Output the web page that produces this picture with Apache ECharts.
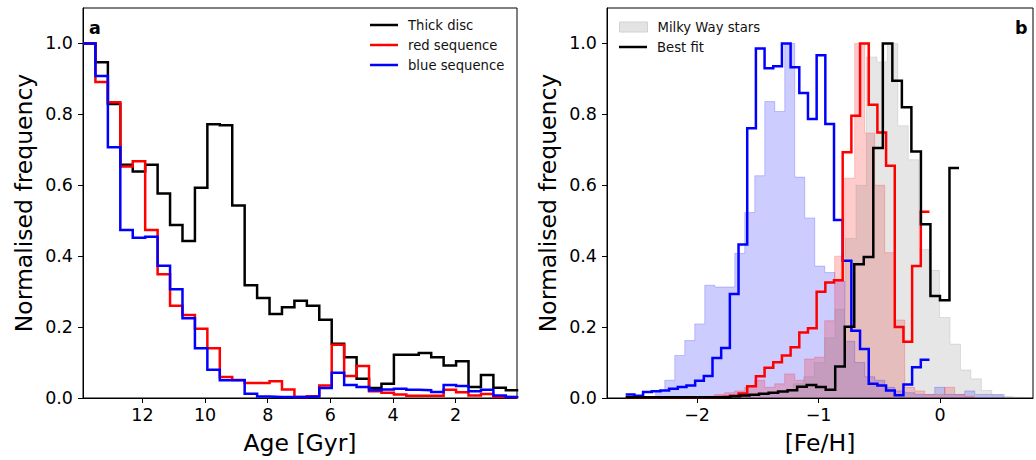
<!DOCTYPE html>
<html><head><meta charset="utf-8">
<script src="https://cdn.jsdelivr.net/npm/echarts@6/dist/echarts.min.js"></script>
<style>html,body{margin:0;padding:0;background:#fff}#c{width:1036px;height:460px}</style>
</head><body><div id="c"></div>
<script>
// ---------- Panel a : age distributions (35 bins, 13.9 Gyr -> 0 Gyr) ----------
const ageBinStart = 13.9;
const ageBinWidth = -13.9 / 35;
const thickDiscAge = [1.0,0.947,0.829,0.658,0.639,0.658,0.577,0.488,0.443,0.593,0.772,0.769,0.543,0.318,0.282,0.237,0.256,0.274,0.260,0.221,0.153,0.115,0.054,0.028,0.040,0.122,0.122,0.127,0.115,0.092,0.104,0.031,0.065,0.029,0.022];
const redSeqAge = [1.0,0.891,0.834,0.653,0.668,0.474,0.349,0.260,0.234,0.195,0.140,0.059,0.051,0.042,0.042,0.047,0.024,0.003,0.005,0.035,0.150,0.062,0.090,0.019,0.015,0.010,0.006,0.006,0.006,0.023,0.016,0.007,0.011,0.003,0.002];
const blueSeqAge = [1.0,0.908,0.707,0.474,0.452,0.455,0.373,0.307,0.225,0.140,0.080,0.050,0.050,0.012,0.004,0.003,0.003,0.003,0.004,0.028,0.071,0.037,0.031,0.022,0.024,0.026,0.023,0.022,0.017,0.037,0.034,0.019,0.023,0.007,0.003];
const ageTicks = [2,4,6,8,10,12];

// ---------- Panel b : [Fe/H] distributions ----------
const fitBinStart = -2.587;
const seqFitBinWidth = 2.5 / 35;
const bestFitBinWidth = 2.743 / 35;
const blueFitFeH = [0.010,0.006,0.017,0.019,0.021,0.026,0.031,0.035,0.049,0.062,0.113,0.141,0.293,0.433,0.761,0.986,0.930,0.936,1.0,0.933,0.860,0.787,0.967,0.773,0.502,0.387,0.190,0.138,0.040,0.035,0.021,0.008,0.038,0.087,0.108];
const redFitFeH = [0.002,0.002,0.002,0.002,0.002,0.002,0.002,0.002,0.002,0.002,0.003,0.004,0.006,0.013,0.033,0.061,0.085,0.101,0.120,0.143,0.185,0.197,0.300,0.326,0.332,0.693,0.796,1.0,0.827,0.749,0.655,0.200,0.159,0.372,0.525];
const bestFitFeH = [0.002,0.002,0.002,0.002,0.002,0.002,0.002,0.002,0.002,0.002,0.003,0.005,0.007,0.009,0.012,0.015,0.018,0.022,0.032,0.037,0.031,0.023,0.089,0.201,0.377,0.398,0.705,1.0,0.895,0.820,0.695,0.490,0.288,0.276,0.649];

const blueObsStart = -2.348, blueObsWidth = 0.0823;
const blueObsFeH = [0.02,0.05,0.12,0.162,0.209,0.318,0.313,0.313,0.408,0.523,0.627,0.836,0.808,1.0,0.623,0.508,0.372,0.354,0.33,0.16,0.10,0.06,0.05,0.03,0.02,0.015,0.01,0.01,0.03,0.01,0.01,0.02,0.01,0.01,0.01];
const redObsStart = -1.937, redObsWidth = 0.0823;
const redObsFeH = [0.005,0.01,0.015,0.02,0.03,0.05,0.03,0.04,0.068,0.05,0.11,0.115,0.218,0.40,0.62,1.0,0.747,0.60,0.41,0.22,0.03,0.02,0.01,0.01,0.03,0.01,0.005];
const mwStart = -1.6378, mwWidth = 0.086;
const milkyWayFeH = [0.005,0.008,0.01,0.015,0.02,0.04,0.06,0.10,0.17,0.25,0.45,0.60,0.962,0.948,1.0,0.768,0.672,0.419,0.360,0.227,0.152,0.079,0.054,0.021,0.009,0.004,0.002];
const fehTicks = [-2,-1,0];
const freqTicks = [0,0.2,0.4,0.6,0.8,1.0];

// ---------- helpers ----------
function steps(start, width, vals) {
  const pts = vals.map((v, i) => [start + i * width, v]);
  pts.push([start + vals.length * width, vals[vals.length - 1]]);
  return pts;
}
const FONT = 'DejaVu Sans';
function yAx(gi) {
  return {
    type: 'value', gridIndex: gi, min: 0, max: 1.1,
    name: 'Normalised frequency', nameLocation: 'middle', nameGap: 47,
    nameTextStyle: {fontFamily: FONT, fontSize: 23.5, color: '#000'},
    axisLine: {show: true, onZero: false, lineStyle: {color: '#000', width: 1}},
    axisTick: {show: true, length: 5, lineStyle: {color: '#000'}, customValues: freqTicks},
    axisLabel: {fontFamily: FONT, fontSize: 17.5, color: '#000', margin: 10, customValues: freqTicks,
      formatter: v => v.toFixed(1)},
    splitLine: {show: false}
  };
}
function lineSeries(name, color, xi, data) {
  return {
    type: 'line', name, xAxisIndex: xi, yAxisIndex: xi, data, step: 'end',
    showSymbol: false, symbol: 'none', silent: true, animation: false,
    lineStyle: {color, width: 2.5, join: 'miter', cap: 'butt'},
    itemStyle: {color}, z: 5
  };
}
function fillSeries(name, rgb, data) {
  return {
    type: 'line', name, xAxisIndex: 1, yAxisIndex: 1, data, step: 'end',
    showSymbol: false, symbol: 'none', silent: true, animation: false,
    lineStyle: {color: 'rgba(' + rgb + ',0.2)', width: 1},
    areaStyle: {color: 'rgba(' + rgb + ',0.2)', opacity: 1},
    itemStyle: {color: 'rgba(' + rgb + ',0.2)'}, z: 2
  };
}

const chart = echarts.init(document.getElementById('c'), null, {renderer: 'svg'});
chart.setOption({
  backgroundColor: '#fff',
  animation: false,
  textStyle: {fontFamily: FONT},
  grid: [
    {left: 83, top: 8, width: 434, height: 391, show: true, borderColor: '#000', borderWidth: 1, containLabel: false},
    {left: 607, top: 8, width: 426, height: 391, show: true, borderColor: '#000', borderWidth: 1, containLabel: false}
  ],
  xAxis: [
    {type: 'value', gridIndex: 0, min: 0.04, max: 13.9, inverse: true,
     name: 'Age [Gyr]', nameLocation: 'middle', nameGap: 33,
     nameTextStyle: {fontFamily: FONT, fontSize: 23.5, color: '#000'},
     axisLine: {show: true, onZero: false, lineStyle: {color: '#000', width: 1}},
     axisTick: {show: true, length: 5, lineStyle: {color: '#000'}, customValues: ageTicks},
     axisLabel: {fontFamily: FONT, fontSize: 17.5, color: '#000', margin: 8, customValues: ageTicks},
     splitLine: {show: false}},
    {type: 'value', gridIndex: 1, min: -2.741, max: 0.765,
     name: '[Fe/H]', nameLocation: 'middle', nameGap: 33,
     nameTextStyle: {fontFamily: FONT, fontSize: 23.5, color: '#000'},
     axisLine: {show: true, onZero: false, lineStyle: {color: '#000', width: 1}},
     axisTick: {show: true, length: 5, lineStyle: {color: '#000'}, customValues: fehTicks},
     axisLabel: {fontFamily: FONT, fontSize: 17.5, color: '#000', margin: 8, customValues: fehTicks,
       formatter: v => (v < 0 ? '\u2212' + Math.abs(v) : String(v))},
     splitLine: {show: false}}
  ],
  yAxis: [yAx(0), yAx(1)],
  title: [
    {text: 'a', left: 89, top: 19, padding: 0, textStyle: {fontFamily: FONT, fontSize: 17.5, fontWeight: 'bold', color: '#000'}},
    {text: 'b', left: 1015, top: 19, padding: 0, textStyle: {fontFamily: FONT, fontSize: 17.5, fontWeight: 'bold', color: '#000'}}
  ],
  legend: [
    {left: 370, top: 18, orient: 'vertical', itemWidth: 28, itemHeight: 2.5, itemGap: 6, padding: 0, selectedMode: false,
     textStyle: {fontFamily: FONT, fontSize: 13.2, color: '#111', lineHeight: 14, padding: [0,0,0,5]},
     data: [
       {name: 'Thick disc', icon: 'rect', itemStyle: {color: '#000'}},
       {name: 'red sequence', icon: 'rect', itemStyle: {color: '#f00'}},
       {name: 'blue sequence', icon: 'rect', itemStyle: {color: '#00f'}}
     ]},
    {left: 619, top: 20, orient: 'vertical', itemWidth: 28, itemHeight: 10, padding: 0, selectedMode: false,
     textStyle: {fontFamily: FONT, fontSize: 13.2, color: '#111', lineHeight: 14, padding: [0,0,0,5]},
     data: [{name: 'Milky Way stars', icon: 'rect', itemStyle: {color: '#e3e3e3', borderColor: '#d2d2d2', borderWidth: 1}}]},
    {left: 619, top: 40, orient: 'vertical', itemWidth: 28, itemHeight: 2.5, padding: 0, selectedMode: false,
     textStyle: {fontFamily: FONT, fontSize: 13.2, color: '#111', lineHeight: 14, padding: [0,0,0,5]},
     data: [{name: 'Best fit', icon: 'rect', itemStyle: {color: '#000'}}]}
  ],
  series: [
    lineSeries('Thick disc', '#000', 0, steps(ageBinStart, ageBinWidth, thickDiscAge)),
    lineSeries('red sequence', '#f00', 0, steps(ageBinStart, ageBinWidth, redSeqAge)),
    lineSeries('blue sequence', '#00f', 0, steps(ageBinStart, ageBinWidth, blueSeqAge)),
    fillSeries('blue sequence stars', '0,0,255', steps(blueObsStart, blueObsWidth, blueObsFeH)),
    fillSeries('red sequence stars', '255,0,0', steps(redObsStart, redObsWidth, redObsFeH)),
    fillSeries('Milky Way stars', '128,128,128', steps(mwStart, mwWidth, milkyWayFeH)),
    lineSeries('blue sequence fit', '#00f', 1, steps(fitBinStart, seqFitBinWidth, blueFitFeH)),
    lineSeries('red sequence fit', '#f00', 1, steps(fitBinStart, seqFitBinWidth, redFitFeH)),
    lineSeries('Best fit', '#000', 1, steps(fitBinStart, bestFitBinWidth, bestFitFeH))
  ]
});
</script></body></html>
